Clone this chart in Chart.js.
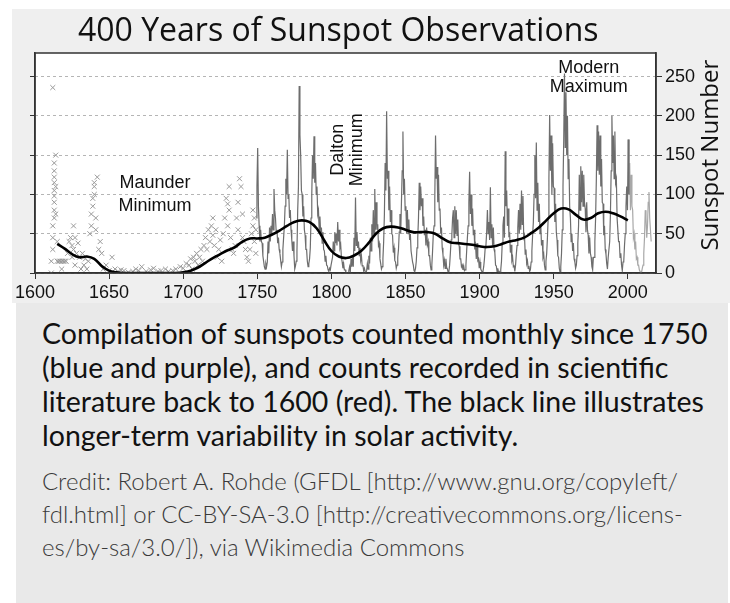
<!DOCTYPE html>
<html>
<head>
<meta charset="utf-8">
<script src="https://cdn.jsdelivr.net/npm/chart.js@4.4.0/dist/chart.umd.min.js"></script>
<style>
  html, body { margin: 0; padding: 0; background: #fff; }
  body { width: 730px; height: 603px; position: relative; overflow: hidden; font-family: Lato, "Open Sans", sans-serif; }
  #fig { position: absolute; left: 12px; top: 9px; width: 718px; height: 294px; background: #efefef; }
  #wrap { position: absolute; left: 0; top: 0; width: 730px; height: 305px; }
  #title { position: absolute; left: 78px; top: 13px; font-family: "Open Sans"; font-size: 32px; line-height: 32px; color: #111; white-space: nowrap; }
  #cap { position: absolute; left: 16px; top: 303px; width: 712px; height: 300px; background: #e9e9e9; }
  #cap .main { position: absolute; left: 26px; top: 13px; font-size: 28.5px; line-height: 34px; color: #111; white-space: nowrap; }
  #cap .credit { position: absolute; left: 26px; top: 161px; font-size: 24px; line-height: 33px; color: #3a3a3a; font-weight: 300; white-space: nowrap; }
</style>
</head>
<body>
<div id="fig"></div>
<div id="wrap"><canvas id="chart1" width="730" height="305"></canvas></div>
<div id="title">400 Years of Sunspot Observations</div>
<div id="cap">
  <div class="main">Compilation of sunspots counted monthly since 1750<br>(blue and purple), and counts recorded in scientific<br>literature back to 1600 (red). The black line illustrates<br>longer-term variability in solar activity.</div>
  <div class="credit">Credit: Robert A. Rohde (GFDL [http://www.gnu.org/copyleft/<br>fdl.html] or CC-BY-SA-3.0 [http://creativecommons.org/licens-<br>es/by-sa/3.0/]), via Wikimedia Commons</div>
</div>
<script>
// monthly record, two readings per year (first half, second half), 1749 - 2000
const monthlyStart = 1749;
const monthlyValues = [
  70, 110,  159, 85,  60, 40,  55, 40,  38, 22,  15, 8,  5, 12,  8, 14,  40, 25,  58, 40,
  60, 50,  75, 55,  107, 80,  70, 52,  55, 38,  45, 30,  25, 16,  8, 14,  30, 45,  60, 85,
  120, 100,  157, 95,  100, 70,  80, 55,  42, 28,  40, 22,  5, 9,  15, 28,  80, 110,  238, 176,
  150, 105,  100, 72,  85, 55,  48, 30,  30, 15,  8, 12,  18, 32,  70, 100,  150, 120,  174, 115,
  140, 100,  110, 75,  80, 55,  72, 50,  58, 38,  52, 30,  28, 15,  22, 10,  9, 4,  2, 6,
  4, 10,  10, 20,  40, 28,  52, 38,  50, 35,  65, 40,  55, 32,  36, 20,  14, 6,  12, 4,
  4, 1,  0, 0,  0, 3,  8, 2,  18, 8,  20, 8,  45, 28,  96, 35,  52, 32,  40, 22,
  32, 16,  22, 9,  10, 3,  6, 2,  0, 3,  12, 5,  22, 12,  45, 28,  62, 40,  80, 50,
  107, 55,  90, 55,  62, 35,  38, 18,  12, 5,  8, 18,  40, 75,  140, 105,  206, 120,  130, 80,
  110, 65,  80, 50,  48, 26,  32, 16,  14, 6,  10, 20,  30, 52,  75, 50,  90, 130,  180, 100,
  120, 80,  85, 50,  80, 50,  68, 42,  50, 28,  28, 14,  10, 3,  2, 6,  15, 32,  45, 70,
  115, 80,  110, 85,  95, 60,  72, 48,  55, 35,  58, 36,  40, 22,  22, 10,  4, 10,  28, 50,
  60, 95,  175, 120,  135, 90,  125, 80,  82, 50,  58, 32,  24, 10,  16, 6,  18, 7,  5, 1,
  2, 10,  25, 42,  48, 70,  80, 45,  85, 50,  80, 48,  68, 38,  34, 18,  18, 8,  10, 4,
  9, 3,  4, 10,  28, 45,  60, 90,  129, 75,  100, 60,  82, 48,  55, 30,  35, 18,  38, 16,
  18, 6,  14, 5,  3, 1,  2, 8,  18, 32,  35, 52,  80, 50,  65, 42,  109, 45,  62, 35,
  58, 30,  26, 10,  9, 2,  6, 1,  2, 0,  4, 15,  38, 60,  72, 45,  155, 85,  105, 60,
  82, 48,  50, 26,  36, 16,  20, 8,  9, 2,  10, 24,  35, 58,  80, 50,  88, 55,  105, 62,
  98, 45,  48, 24,  30, 12,  16, 6,  9, 2,  4, 14,  28, 48,  65, 100,  150, 95,  166, 80,
  115, 65,  88, 50,  62, 35,  42, 20,  24, 10,  4, 15,  25, 45,  70, 120,  201, 130,  175, 100,
  165, 110,  108, 65,  88, 52,  42, 22,  20, 6,  1, 8,  25, 55,  110, 170,  254, 160,  230, 150,
  200, 120,  145, 85,  70, 40,  50, 28,  38, 18,  14, 6,  10, 22,  38, 60,  125, 80,  136, 90,
  130, 85,  125, 90,  82, 52,  90, 55,  48, 25,  45, 25,  20, 8,  4, 20,  20, 40,  70, 120,
  188, 130,  180, 125,  175, 110,  145, 90,  88, 48,  60, 30,  24, 12,  5, 20,  20, 40,  75, 130,
  200, 140,  175, 120,  180, 115,  120, 70,  70, 40,  40, 20,  25, 10,  3, 14,  15, 35,  50, 85,
  110, 80,  170, 100
];
// most recent readings, 2000 - 2015
const recentStart = 2000;
const recentValues = [
  170, 100,  140, 80,  125, 85,  80, 45,  50, 30,  40, 18,  20, 10,  10, 4,
  2, 0,  1, 6,  10, 25,  45, 80,  70, 45,  60, 90,  103, 70,  55, 40
];
// historical counts from the literature, 1610 - 1750
const histYears = [
  1611, 1611, 1612, 1612, 1612, 1612, 1613, 1613, 1613, 1613, 1613, 1613, 1613, 1613, 1613, 1614, 1614, 1614,
  1615, 1615, 1616, 1617, 1618, 1618, 1619, 1620, 1621, 1622, 1623, 1624, 1625, 1625, 1626, 1626, 1627, 1627,
  1628, 1629, 1630, 1631, 1632, 1633, 1634, 1635, 1636, 1637, 1638, 1638, 1639, 1639, 1640, 1640, 1640, 1641,
  1641, 1642, 1643, 1644, 1645, 1646, 1648, 1650, 1652, 1654, 1656, 1658, 1660, 1663, 1666, 1668, 1670, 1672,
  1675, 1678, 1680, 1683, 1685, 1688, 1690, 1693, 1695, 1698, 1700, 1702, 1704, 1705, 1706, 1707, 1708, 1709,
  1710, 1711, 1712, 1713, 1714, 1715, 1716, 1717, 1718, 1719, 1720, 1720, 1721, 1722, 1723, 1724, 1725, 1726,
  1727, 1728, 1729, 1730, 1730, 1731, 1731, 1732, 1733, 1734, 1735, 1736, 1737, 1737, 1738, 1739, 1740, 1740,
  1741, 1742, 1743, 1744, 1745, 1746, 1747, 1747, 1748, 1748, 1749, 1749
];
const histValues = [
  0, 15, 236, 30, 45, 60, 70, 80, 90, 98, 105, 115, 122, 130, 140, 150, 110, 75,
  40, 15, 15, 15, 5, 15, 15, 15, 15, 25, 40, 45, 35, 20, 60, 30, 45, 10,
  25, 38, 20, 5, 25, 10, 18, 5, 15, 50, 60, 75, 85, 95, 100, 110, 115, 70,
  55, 122, 30, 40, 25, 5, 10, 3, 20, 5, 2, 4, 3, 1, 2, 5, 3, 8,
  2, 4, 6, 2, 3, 5, 2, 3, 5, 8, 6, 12, 10, 18, 5, 20, 15, 25,
  10, 20, 30, 15, 35, 45, 30, 55, 40, 60, 70, 48, 35, 55, 20, 30, 42, 15,
  50, 70, 95, 88, 60, 110, 80, 45, 30, 25, 35, 70, 90, 55, 120, 110, 75, 45,
  40, 30, 20, 15, 30, 50, 80, 60, 70, 40, 55, 25
];
// long-term smoothed activity
const trendYears = [
  1615, 1620, 1625, 1630, 1635, 1640, 1645, 1650, 1655, 1660, 1665, 1670, 1675, 1680, 1685, 1690, 1695, 1700,
  1705, 1710, 1715, 1720, 1725, 1730, 1735, 1740, 1745, 1750, 1755, 1760, 1765, 1770, 1775, 1780, 1785, 1790,
  1795, 1800, 1805, 1810, 1815, 1820, 1825, 1830, 1835, 1840, 1845, 1850, 1855, 1860, 1865, 1870, 1875, 1880,
  1885, 1890, 1895, 1900, 1905, 1910, 1915, 1920, 1925, 1930, 1935, 1940, 1945, 1950, 1955, 1960, 1965, 1970,
  1975, 1980, 1985, 1990, 1995, 2000
];
const trendValues = [
  37, 31, 24, 20, 21, 18, 9, 3, 1, 0, 0, 0, 0, 0, 0, 0, 0, 1,
  3, 7, 13, 19, 24, 29, 33, 40, 44, 44, 45, 49, 54, 60, 65, 67, 65, 57,
  42, 28, 21, 19, 22, 28, 38, 50, 57, 59, 58, 55, 52, 52, 52, 50, 44, 39,
  38, 37, 36, 34, 33, 34, 37, 40, 42, 45, 51, 58, 67, 76, 82, 81, 74, 68,
  70, 76, 78, 76, 72, 67
];
const yearTicks = [1600, 1650, 1700, 1750, 1800, 1850, 1900, 1950, 2000];
const countTicks = [0, 50, 100, 150, 200, 250];

const notes = [
  { lines: ['Maunder', 'Minimum'], x: 1681, y: [115, 85.5], rotate: false },
  { lines: ['Dalton', 'Minimum'], x: [1804.7, 1817.6], y: 157, rotate: true },
  { lines: ['Modern', 'Maximum'], x: 1973.6, y: [261, 237], rotate: false }
];

function halfYearPoints(start, values) {
  return values.map((v, i) => ({ x: start + 0.25 + i * 0.5, y: v }));
}

const framePlugin = {
  id: 'frame',
  beforeDraw(chart) {
    const { ctx, chartArea: a } = chart;
    ctx.save();
    ctx.fillStyle = '#fff';
    ctx.fillRect(a.left, a.top, a.right - a.left, a.bottom - a.top);
    ctx.restore();
  },
  afterDraw(chart) {
    const { ctx, chartArea: a, scales } = chart;
    ctx.save();
    ctx.strokeStyle = '#333';
    ctx.lineWidth = 1.5;
    ctx.strokeRect(a.left, a.top, a.right - a.left, a.bottom - a.top);

    ctx.fillStyle = '#111';
    ctx.font = '18px "Liberation Sans", Arial, sans-serif';
    ctx.textAlign = 'center';
    ctx.textBaseline = 'middle';
    notes.forEach(n => {
      n.lines.forEach((t, i) => {
        if (n.rotate) {
          const px = scales.x.getPixelForValue(n.x[i]);
          const py = scales.y.getPixelForValue(n.y);
          ctx.save();
          ctx.translate(px, py);
          ctx.rotate(-Math.PI / 2);
          ctx.fillText(t, 0, 0);
          ctx.restore();
        } else {
          ctx.fillText(t, scales.x.getPixelForValue(n.x), scales.y.getPixelForValue(n.y[i]));
        }
      });
    });

    // right axis title
    ctx.font = '24px "Open Sans", sans-serif';
    ctx.translate(a.right + 55, scales.y.getPixelForValue(150));
    ctx.rotate(-Math.PI / 2);
    ctx.fillText('Sunspot Number', 0, 0);
    ctx.restore();
  }
};

const tickFont = { family: '"Liberation Sans", Arial, sans-serif', size: 18 };

new Chart(document.getElementById('chart1'), {
  data: {
    datasets: [
      {
        type: 'line',
        label: 'Trend',
        data: trendYears.map((y, i) => ({ x: y, y: trendValues[i] })),
        borderColor: '#000',
        borderWidth: 2.6,
        pointRadius: 0,
        tension: 0.4,
        order: 0
      },
      {
        type: 'line',
        label: 'Monthly',
        data: halfYearPoints(monthlyStart, monthlyValues),
        borderColor: '#6d6d6d',
        borderWidth: 1.2,
        pointRadius: 0,
        tension: 0,
        order: 2
      },
      {
        type: 'line',
        label: 'Recent',
        data: halfYearPoints(recentStart, recentValues),
        borderColor: '#a8a8a8',
        borderWidth: 1.2,
        pointRadius: 0,
        tension: 0,
        order: 3
      },
      {
        type: 'scatter',
        label: 'Historical',
        data: histYears.map((y, i) => ({ x: y, y: histValues[i] })),
        pointStyle: 'crossRot',
        pointRadius: 3.5,
        borderColor: '#9a9a9a',
        borderWidth: 1,
        order: 4
      }
    ]
  },
  options: {
    responsive: false,
    animation: false,
    events: [],
    layout: { padding: { left: 30, right: 0, top: 53, bottom: 0 } },
    plugins: { legend: { display: false }, tooltip: { enabled: false } },
    scales: {
      x: {
        type: 'linear',
        position: 'bottom',
        min: 1600,
        max: 2019,
        afterBuildTicks: s => { s.ticks = yearTicks.map(v => ({ value: v })); },
        ticks: { font: tickFont, color: '#111', padding: 3, maxRotation: 0, autoSkip: false, callback: v => String(v) },
        grid: { drawOnChartArea: false, tickLength: 6, color: '#333' },
        border: { color: '#333', width: 1.5 },
        afterFit: s => { s.height = 32; }
      },
      y: {
        type: 'linear',
        position: 'right',
        min: 0,
        max: 280,
        afterBuildTicks: s => { s.ticks = countTicks.map(v => ({ value: v })); },
        ticks: { font: tickFont, color: '#111', padding: 3, callback: v => String(v) },
        grid: { color: '#b5b5b5', tickColor: '#333', tickLength: 6 },
        border: { color: '#333', width: 1.5, dash: [3, 3] },
        afterFit: s => { s.width = 74; }
      },
      yL: {
        type: 'linear',
        position: 'left',
        min: 0,
        max: 280,
        afterBuildTicks: s => { s.ticks = countTicks.map(v => ({ value: v })); },
        ticks: { callback: () => '' },
        grid: { drawOnChartArea: false, tickLength: 5, color: '#333' },
        border: { color: '#333', width: 1.5 },
        afterFit: s => { s.width = 5; }
      }
    }
  },
  plugins: [framePlugin]
});
</script>
</body>
</html>
